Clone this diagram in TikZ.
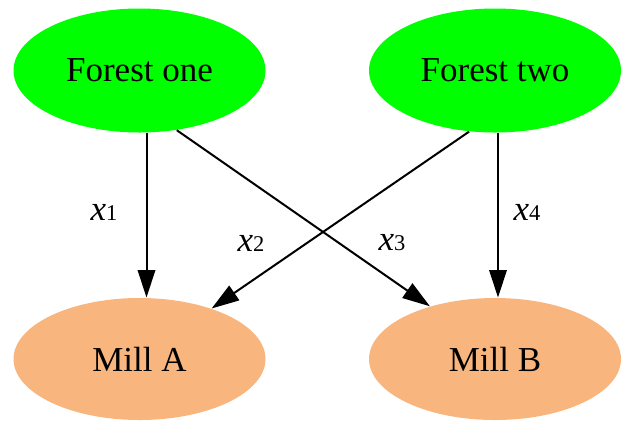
\documentclass[tikz,border=0pt]{standalone}
\usepackage{fontspec}
\setmainfont{Liberation Serif}
\usetikzlibrary{shapes.geometric,arrows.meta}
\definecolor{forestgreen}{HTML}{00FF00}
\definecolor{millorange}{HTML}{F8B57E}

\begin{document}
\begin{tikzpicture}[>={Triangle[length=11pt,width=7pt]},
  forest/.style={ellipse, fill=forestgreen, inner sep=0pt, minimum width=100.8pt, minimum height=49.6pt, font=\fontsize{14}{16}\selectfont},
  mill/.style={ellipse, fill=millorange, inner sep=0pt, minimum width=100.8pt, minimum height=48.8pt, font=\fontsize{14}{16}\selectfont},
  flow/.style={->, line width=0.8pt},
  flowlabel/.style={inner sep=0pt, font=\fontsize{14}{16}\selectfont}]
\useasboundingbox (0pt,0pt) rectangle (248.4pt,-169.2pt);
% ----------------- Forests -----------------
\node (forest1) [forest] at (55.8pt,-28.2pt) {Forest one};
\node (forest2) [forest] at (198pt,-28.2pt) {Forest two};

% ----------------- Mills -----------------
\node (millA) [mill] at (55.8pt,-143.6pt) {Mill A};
\node (millB) [mill] at (198pt,-143.6pt) {Mill B};

% ----------------- Arrows -----------------
\draw[flow] ([xshift=2.8pt]forest1.south) -- ([xshift=2.8pt]millA.north);
\draw[flow] (forest1.-58) -- (millB.141);
\draw[flow] (forest2.247) -- (millA.35);
\draw[flow] ([xshift=1.2pt]forest2.south) -- ([xshift=1.2pt]millB.north);

% ----------------- Labels -----------------
\node (lab1) [flowlabel] at (41.6pt,-84.8pt) {\textit{x}{\fontsize{9}{10}\selectfont 1}};
\node (lab2) [flowlabel] at (100.4pt,-97.2pt) {\textit{x}{\fontsize{9}{10}\selectfont 2}};
\node (lab3) [flowlabel] at (156.8pt,-97.2pt) {\textit{x}{\fontsize{9}{10}\selectfont 3}};
\node (lab4) [flowlabel] at (210.8pt,-84.8pt) {\textit{x}{\fontsize{9}{10}\selectfont 4}};
\end{tikzpicture}
\end{document}
